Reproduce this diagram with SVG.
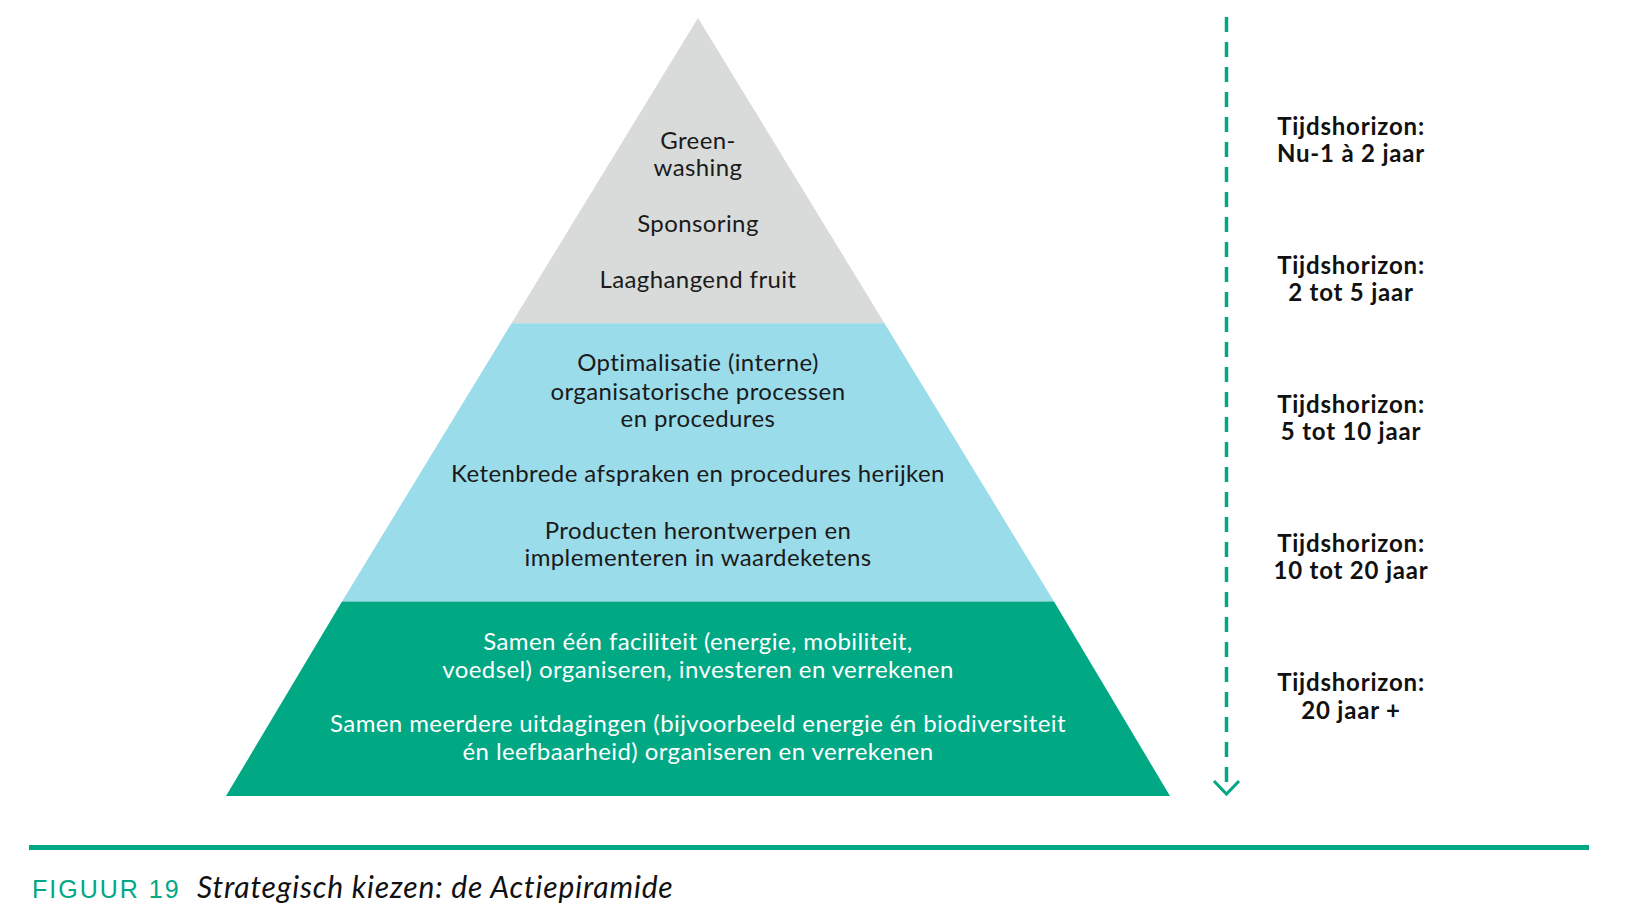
<svg xmlns="http://www.w3.org/2000/svg" width="1640" height="916" viewBox="0 0 1640 916">
<style>
.t{font-family:Lato,"Open Sans","Liberation Sans",sans-serif;font-size:24px;letter-spacing:0.4px;text-anchor:middle;fill:#1a1a1a}
.w{fill:#ffffff}
.h{font-family:Lato,"Open Sans","Liberation Sans",sans-serif;font-size:24px;letter-spacing:0.8px;font-weight:bold;text-anchor:middle;fill:#111}
</style>
<rect width="1640" height="916" fill="#ffffff"/>
<g id="layer-top">
<polygon points="698,18 884.5,323.3 511.5,323.3" fill="#D9DADA"/>
<text class="t" x="698" y="148.5">Green-</text>
<text class="t" x="698" y="175.7">washing</text>
<text class="t" x="698" y="232.2">Sponsoring</text>
<text class="t" x="698" y="287.6">Laaghangend fruit</text>
</g>
<g id="layer-middle">
<polygon points="511.5,323.3 884.5,323.3 1054,601.5 342,601.5" fill="#9BDCEA"/>
<text class="t" x="698" y="371.3">Optimalisatie (interne)</text>
<text class="t" x="698" y="399.5">organisatorische processen</text>
<text class="t" x="698" y="426.7">en procedures</text>
<text class="t" x="698" y="482.2">Ketenbrede afspraken en procedures herijken</text>
<text class="t" x="698" y="538.6">Producten herontwerpen en</text>
<text class="t" x="698" y="565.8">implementeren in waardeketens</text>
</g>
<g id="layer-bottom">
<polygon points="342,601.5 1054,601.5 1170,796 226,796" fill="#00A884"/>
<text class="t w" x="698" y="649.5">Samen één faciliteit (energie, mobiliteit,</text>
<text class="t w" x="698" y="677.7">voedsel) organiseren, investeren en verrekenen</text>
<text class="t w" x="698" y="732.1">Samen meerdere uitdagingen (bijvoorbeeld energie én biodiversiteit</text>
<text class="t w" x="698" y="760.4">én leefbaarheid) organiseren en verrekenen</text>
</g>
<g id="connectors">
<line x1="1226.5" y1="17" x2="1226.5" y2="788" stroke="#00A884" stroke-width="3.5" stroke-dasharray="15 10"/>
<polyline points="1214,781 1226.5,794 1239,781" fill="none" stroke="#00A884" stroke-width="3"/>
</g>
<g id="horizons">
<text class="h" x="1351" y="134.9">Tijdshorizon:</text>
<text class="h" x="1351" y="162.1">Nu-1 à 2 jaar</text>
<text class="h" x="1351" y="274">Tijdshorizon:</text>
<text class="h" x="1351" y="301.2">2 tot 5 jaar</text>
<text class="h" x="1351" y="413.1">Tijdshorizon:</text>
<text class="h" x="1351" y="440.3">5 tot 10 jaar</text>
<text class="h" x="1351" y="552.2">Tijdshorizon:</text>
<text class="h" x="1351" y="579.4">10 tot 20 jaar</text>
<text class="h" x="1351" y="691.3">Tijdshorizon:</text>
<text class="h" x="1351" y="718.5">20 jaar +</text>
</g>
<g id="caption">
<rect x="29" y="845" width="1560" height="5" fill="#00A884"/>
<text x="32" y="898" font-family="'Liberation Sans',Arial,sans-serif" font-size="25" fill="#00A884" letter-spacing="2">FIGUUR 19</text>
<text x="197" y="898" font-family="Lato,'Noto Sans',sans-serif" font-style="italic" font-size="30" letter-spacing="0.85" fill="#111">Strategisch kiezen: de Actiepiramide</text>
</g>
</svg>
